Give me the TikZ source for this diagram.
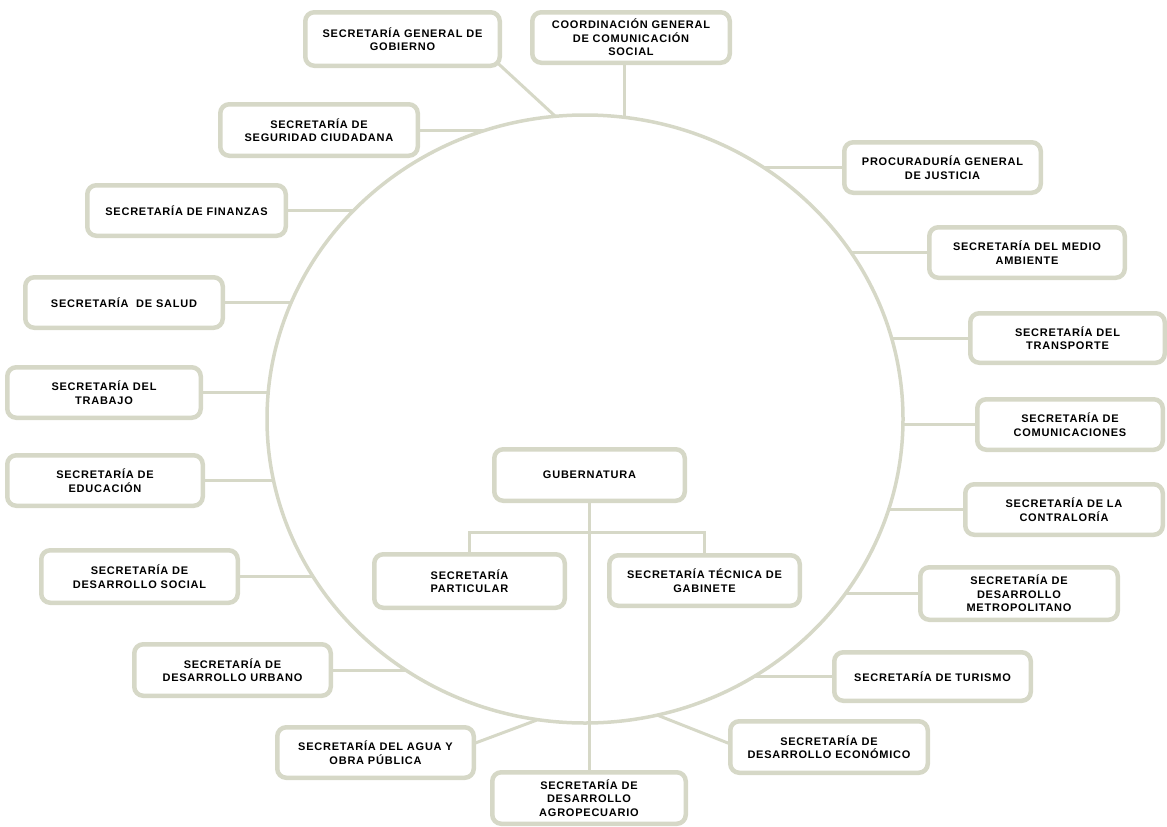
\documentclass[tikz,border=0pt]{standalone}
\usepackage{fontspec}
\newfontfamily\boxfont{Liberation Sans}[LetterSpace=7]
\usetikzlibrary{calc,backgrounds}
\definecolor{lineclr}{RGB}{214,216,199}
\tikzset{
  ob/.style={draw=lineclr, line width=4.5pt, rounded corners=9pt, fill=white,
    inner sep=0pt, align=center, font=\boxfont\bfseries\fontsize{11}{13.5}\selectfont},
  conn/.style={draw=lineclr, line width=3pt},
  ring/.style={draw=lineclr, line width=3.5pt}
}
\newcommand\rpL[3]{\coordinate (#1) at ({585-318*sqrt(1-((#2-419)/304)^2)},#2);}
\newcommand\rpR[3]{\coordinate (#1) at ({585+318*sqrt(1-((#2-419)/304)^2)},#2);}
\begin{document}
\begin{tikzpicture}[x=1pt,y=-1pt]
\useasboundingbox (0,0) rectangle (1167,827);
% boxes
\node[ob, minimum width=194.5pt, minimum height=53.5pt] (gob) at (402.5,39) {SECRETARÍA GENERAL DE\\GOBIERNO};
\node[ob, minimum width=197.5pt, minimum height=50.5pt] (css) at (631,37.5) {COORDINACIÓN GENERAL\\DE COMUNICACIÓN\\SOCIAL};
\node[ob, minimum width=197.5pt, minimum height=51.5pt] (seg) at (319,130) {SECRETARÍA DE\\SEGURIDAD CIUDADANA};
\node[ob, minimum width=198.5pt, minimum height=50.5pt] (fin) at (186.5,210.5) {SECRETARÍA DE FINANZAS};
\node[ob, minimum width=197.5pt, minimum height=50.5pt] (sal) at (124,302.5) {SECRETARÍA \ DE SALUD};
\node[ob, minimum width=193.5pt, minimum height=50.5pt] (tra) at (104,392.5) {SECRETARÍA DEL\\TRABAJO};
\node[ob, minimum width=195.5pt, minimum height=50.5pt] (edu) at (105,480.5) {SECRETARÍA DE\\EDUCACIÓN};
\node[ob, minimum width=196.5pt, minimum height=52.5pt] (dso) at (139.5,576.5) {SECRETARÍA DE\\DESARROLLO SOCIAL};
\node[ob, minimum width=196.5pt, minimum height=51.5pt] (dur) at (232.5,670) {SECRETARÍA DE\\DESARROLLO URBANO};
\node[ob, minimum width=196.5pt, minimum height=50.5pt] (agu) at (375.5,752.5) {SECRETARÍA DEL AGUA Y\\OBRA PÚBLICA};
\node[ob, minimum width=193.5pt, minimum height=51.5pt] (agr) at (589,798) {SECRETARÍA DE\\DESARROLLO\\AGROPECUARIO};
\node[ob, minimum width=197.5pt, minimum height=51.5pt] (eco) at (829,747) {SECRETARÍA DE\\DESARROLLO ECONÓMICO};
\node[ob, minimum width=196.5pt, minimum height=48.5pt] (tur) at (932.5,676.5) {SECRETARÍA DE TURISMO};
\node[ob, minimum width=197.5pt, minimum height=52.5pt] (met) at (1019,593.5) {SECRETARÍA DE\\DESARROLLO\\METROPOLITANO};
\node[ob, minimum width=197.5pt, minimum height=50.5pt] (con) at (1064,509.5) {SECRETARÍA DE LA\\CONTRALORÍA};
\node[ob, minimum width=185.5pt, minimum height=50.5pt] (com) at (1070,424.5) {SECRETARÍA DE\\COMUNICACIONES};
\node[ob, minimum width=194.5pt, minimum height=49.5pt] (trn) at (1067.5,338) {SECRETARÍA DEL\\TRANSPORTE};
\node[ob, minimum width=195.5pt, minimum height=50.5pt] (med) at (1027,252.5) {SECRETARÍA DEL MEDIO\\AMBIENTE};
\node[ob, minimum width=196.5pt, minimum height=50.5pt] (pro) at (942.5,167.5) {PROCURADURÍA GENERAL\\DE JUSTICIA};
\node[ob, minimum width=190.5pt, minimum height=51.5pt] (gub) at (589.5,475) {GUBERNATURA};
\node[ob, minimum width=190.5pt, minimum height=53.5pt] (par) at (469.5,581) {SECRETARÍA\\PARTICULAR};
\node[ob, minimum width=190.5pt, minimum height=50.5pt] (tec) at (704.5,580.5) {SECRETARÍA TÉCNICA DE\\GABINETE};
% ring points
\rpL{rSeg}{130}{}
\rpL{rFin}{210.5}{}
\rpL{rSal}{302.5}{}
\rpL{rTra}{392.5}{}
\rpL{rEdu}{480.5}{}
\rpL{rDso}{576.5}{}
\rpL{rDur}{670}{}
\rpR{rPro}{167.5}{}
\rpR{rMed}{252.5}{}
\rpR{rTrn}{338}{}
\rpR{rCom}{424.5}{}
\rpR{rCon}{509.5}{}
\rpR{rMet}{593.5}{}
\rpR{rTur}{676.5}{}
\coordinate (rGob) at (555,116);
\coordinate (rCss) at (624,117);
\coordinate (rAgu) at (537,720);
\coordinate (rEco) at (657,715);
\coordinate (bus) at (588,532);
\begin{scope}[on background layer]
\draw[ring] (585,419) ellipse [x radius=318pt, y radius=304pt];
\draw[conn] (seg) -- (rSeg);
\draw[conn] (fin) -- (rFin);
\draw[conn] (sal) -- (rSal);
\draw[conn] (tra) -- (rTra);
\draw[conn] (edu) -- (rEdu);
\draw[conn] (dso) -- (rDso);
\draw[conn] (dur) -- (rDur);
\draw[conn] (pro) -- (rPro);
\draw[conn] (med) -- (rMed);
\draw[conn] (trn) -- (rTrn);
\draw[conn] (com) -- (rCom);
\draw[conn] (con) -- (rCon);
\draw[conn] (met) -- (rMet);
\draw[conn] (tur) -- (rTur);
\draw[conn] ($(gob.south east)+(-12,-12)$) -- (rGob);
\draw[conn] ($(css.south)+(-7,-10)$) -- (rCss);
\draw[conn] ($(agu.east)+(-10,-6)$) -- (rAgu);
\draw[conn] ($(eco.west)+(10,0)$) -- (rEco);
\draw[conn] (gub) -- (gub |- agr.center);
\draw[conn] (par.north) -- (par.north |- bus) -| (tec.north);
\end{scope}
\end{tikzpicture}
\end{document}
